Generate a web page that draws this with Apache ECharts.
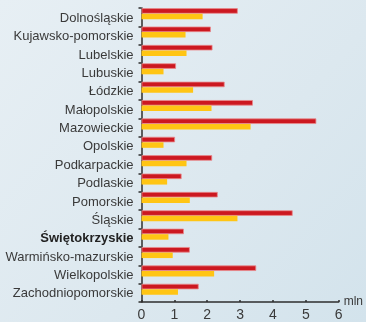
<!DOCTYPE html>
<html>
<head>
<meta charset="utf-8">
<style>
  html, body { margin: 0; padding: 0; }
  #chart { width: 366px; height: 322px; }
</style>
<script src="https://cdn.jsdelivr.net/npm/echarts@6/dist/echarts.min.js"></script>
</head>
<body>
<div id="chart"></div>
<script>
// Voivodeships, listed top to bottom
const regions = [
  'Dolnośląskie', 'Kujawsko-pomorskie', 'Lubelskie', 'Lubuskie', 'Łódzkie',
  'Małopolskie', 'Mazowieckie', 'Opolskie', 'Podkarpackie', 'Podlaskie',
  'Pomorskie', 'Śląskie', 'Świętokrzyskie', 'Warmińsko-mazurskie',
  'Wielkopolskie', 'Zachodniopomorskie'
];
// Values in millions
const redValues = [2.93, 2.11, 2.16, 1.05, 2.53, 3.39, 5.32, 1.02, 2.15, 1.22, 2.32, 4.60, 1.29, 1.47, 3.49, 1.74];
const yellowValues = [1.86, 1.34, 1.37, 0.67, 1.57, 2.13, 3.32, 0.67, 1.37, 0.78, 1.47, 2.92, 0.82, 0.95, 2.21, 1.11];
const xTicks = [0, 1, 2, 3, 4, 5, 6];
const highlighted = 'Świętokrzyskie';

const chart = echarts.init(document.getElementById('chart'), null, { renderer: 'canvas' });

const font = '"Liberation Sans", Arial, sans-serif';

chart.setOption({
  animation: false,
  backgroundColor: new echarts.graphic.LinearGradient(0, 0, 1, 1, [
    { offset: 0, color: '#e7eff4' },
    { offset: 0.6, color: '#dce8ef' },
    { offset: 1, color: '#d3e3ec' }
  ]),
  grid: { left: 141.5, right: 24, top: 8, bottom: 17, containLabel: false },
  xAxis: {
    type: 'value',
    min: xTicks[0],
    max: xTicks[xTicks.length - 1],
    interval: 1,
    name: 'mln',
    nameLocation: 'end',
    nameGap: 5,
    nameTextStyle: { color: '#3a3a3a', fontSize: 12, fontFamily: font },
    axisLine: { show: true, lineStyle: { color: '#2e2e2e', width: 1.5 } },
    axisTick: { show: true, inside: true, length: 2, lineStyle: { color: '#2e2e2e', width: 1.5 } },
    axisLabel: { color: '#3a3a3a', fontSize: 14, fontFamily: font, margin: 6 },
    splitLine: { show: false }
  },
  yAxis: {
    type: 'category',
    data: regions,
    inverse: true,
    axisLine: { show: true, lineStyle: { color: '#2e2e2e', width: 1.5 } },
    axisTick: { show: true, length: 3, lineStyle: { color: '#2e2e2e', width: 1.5 } },
    axisLabel: {
      color: '#3a3a3a',
      fontSize: 13,
      fontFamily: font,
      margin: 8,
      padding: [2, 0, 0, 0],
      formatter: function (v) { return v === highlighted ? '{b|' + v + '}' : v; },
      rich: { b: { fontWeight: 'bold', fontSize: 13, color: '#222222', fontFamily: font } }
    }
  },
  series: [
    {
      type: 'bar',
      data: redValues,
      barWidth: 5.5,
      barGap: '0%',
      itemStyle: { color: '#cc1820', borderColor: '#e8898b', borderWidth: 0.8 }
    },
    {
      type: 'bar',
      data: yellowValues,
      barWidth: 5.5,
      barGap: '0%',
      itemStyle: { color: '#ffc514' }
    },
    {
      // empty slot below each pair keeps the pair near the top of its band
      type: 'bar',
      data: [],
      barWidth: 7,
      barGap: '0%'
    }
  ]
});
</script>
</body>
</html>
